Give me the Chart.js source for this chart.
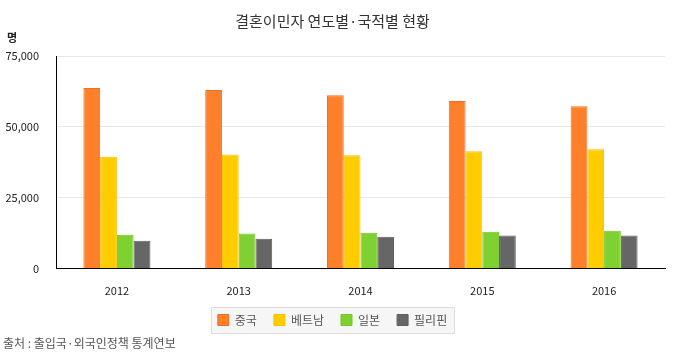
<!DOCTYPE html>
<html><head><meta charset="utf-8">
<script src="https://cdn.jsdelivr.net/npm/chart.js@4/dist/chart.umd.min.js"></script>
<style>html,body{margin:0;padding:0;background:#fff}#w{position:relative;width:676px;height:355px}</style>
</head><body>
<div id="w"><canvas id="c" width="676" height="355"></canvas></div>
<script>
const years = ['2012','2013','2014','2015','2016'];
const seriesNames = ['중국','베트남','일본','필리핀'];
const china = [63700, 63000, 61200, 59100, 57300];
const vietnam = [39500, 40300, 40000, 41400, 42100];
const japan = [12000, 12400, 12700, 13100, 13400];
const philippines = [9900, 10600, 11300, 11700, 11700];
const yTicks = [0, 25000, 50000, 75000];
const titleText = '결혼이민자 연도별·국적별 현황';
const unitText = '명';
const sourceText = '출처 : 출입국·외국인정책 통계연보';

const fontFam = '"Noto Sans CJK KR","Noto Sans",sans-serif';
const colors = ['#FF7F2A','#FFCC00','#7FD132','#666666'];
const borders = ['#F07020','#F5C000','#74C52A','#5E5E5E'];
const vals = [china, vietnam, japan, philippines];

const legendBg = {
  id: 'legendBg',
  beforeDraw(chart) {
    const ctx = chart.ctx;
    const lg = chart.legend;
    if (lg && lg.legendHitBoxes && lg.legendHitBoxes.length) {
      const hb = lg.legendHitBoxes;
      let l = Infinity, r = -Infinity, t = Infinity, b = -Infinity;
      hb.forEach(h => { l = Math.min(l, h.left); r = Math.max(r, h.left + h.width); t = Math.min(t, h.top); b = Math.max(b, h.top + h.height); });
      ctx.save();
      const x = Math.round(l - 7) + 0.5, y = Math.round(t - 7) + 0.5, w = Math.round(r - l + 14), h = Math.round(b - t + 14);
      ctx.fillStyle = '#f6f6f6';
      ctx.fillRect(x, y, w, h);
      ctx.strokeStyle = '#dcdcdc';
      ctx.lineWidth = 1;
      ctx.strokeRect(x, y, w, h);
      ctx.restore();
    }
  }
};

const extras = {
  id: 'extras',
  afterDraw(chart) {
    const ctx = chart.ctx;
    ctx.save();
    ctx.fillStyle = '#222';
    ctx.font = 'bold 11px ' + fontFam;
    ctx.textAlign = 'left';
    ctx.textBaseline = 'middle';
    ctx.fillText(unitText, 7, 38);
    ctx.fillStyle = '#555';
    ctx.font = '12px ' + fontFam;
    ctx.fillText(sourceText, 3, 343);
    ctx.restore();
  }
};

new Chart(document.getElementById('c'), {
  type: 'bar',
  data: {
    labels: years,
    datasets: seriesNames.map((n, i) => ({
      label: n,
      data: vals[i],
      backgroundColor: colors[i],
      borderColor: borders[i],
      borderWidth: 1,
      categoryPercentage: 0.55,
      barPercentage: 1.0
    }))
  },
  options: {
    responsive: false,
    animation: false,
    devicePixelRatio: 1,
    layout: { padding: { left: 0, right: 11, top: 0, bottom: 19 } },
    plugins: {
      title: {
        display: true, text: titleText, color: '#333',
        font: { size: 15, family: fontFam, weight: 'normal' },
        padding: { top: 12, bottom: 26 }
      },
      legend: {
        position: 'bottom',
        labels: {
          color: '#555', font: { size: 12, family: fontFam },
          boxWidth: 11, boxHeight: 11, padding: 17
        }
      },
      tooltip: { enabled: false }
    },
    scales: {
      x: {
        afterFit(s) { s.height = s.height - 15; },
        grid: { display: false, drawTicks: false },
        border: { display: true, color: '#000', width: 1 },
        ticks: { color: '#222', font: { size: 11, family: fontFam }, padding: 15 }
      },
      y: {
        min: 0, max: 75000,
        afterFit(s) { s.width = 56; },
        afterBuildTicks(s) { s.ticks = yTicks.map(v => ({ value: v })); },
        grid: { color: '#e8e8e8', drawTicks: false },
        border: { display: true, color: '#000', width: 1 },
        ticks: {
          color: '#222', font: { size: 11, family: fontFam }, padding: 17,
          callback: v => v.toLocaleString('en-US')
        }
      }
    }
  },
  plugins: [legendBg, extras]
});
</script>
</body></html>
